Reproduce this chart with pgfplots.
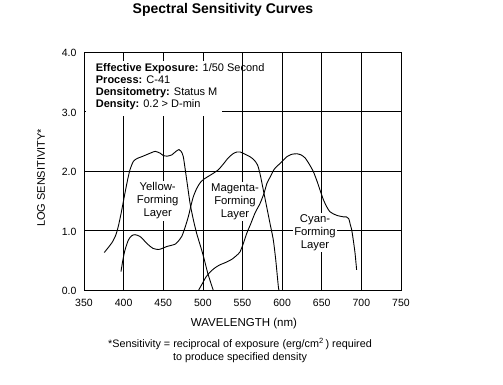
\documentclass[border=0pt]{standalone}
\usepackage{pgfplots}
\pgfplotsset{compat=1.18}
\usepackage{fontspec}
\setmainfont{Liberation Sans}
\begin{document}
\begin{tikzpicture}[x=1pt,y=1pt]
\useasboundingbox (0,0) rectangle (503,385);
\begin{axis}[
  at={(84pt,95pt)}, anchor=south west,
  scale only axis, width=317pt, height=238pt,
  xmin=350, xmax=750, ymin=0, ymax=4,
  xtick={350,400,...,750}, ytick={0,1,2,3,4},
  grid=major, major grid style={black, line width=0.75pt},
  major tick length=0pt,
  axis line style={black, line width=0.9pt},
  tick label style={font=\fontsize{10.5}{12}\selectfont},
  /pgf/number format/assume math mode=true,
  yticklabel={\pgfmathprintnumber[fixed,fixed zerofill,precision=1]{\tick}},
  yticklabel style={xshift=-4pt, yshift=-1pt},
  xticklabel style={yshift=-6pt},
  scaled ticks=false,
  clip=false,
]
\node[fill=white, align=center, inner sep=1.5pt, font=\fontsize{11.3}{13}\selectfont] at (axis cs:443,1.50) {Yellow-\\Forming\\Layer};
\node[fill=white, align=center, inner sep=1.5pt, font=\fontsize{11.3}{13}\selectfont] at (axis cs:540.5,1.49) {Magenta-\\Forming\\Layer};
\node[fill=white, align=center, inner sep=1.5pt, font=\fontsize{11.3}{13}\selectfont] at (axis cs:641.5,0.96) {Cyan-\\Forming\\Layer};
% Yellow-forming layer
\addplot[black, line width=0.9pt, smooth, tension=0.4] coordinates {
(375.6,0.63) (385,0.79) (390,0.92) (393.3,1.07) (397,1.30) (401.7,1.63) (405,1.85) (408,2.02) (412.2,2.16) (417,2.21) (422.8,2.24) (430,2.28) (435.4,2.31) (440,2.33) (446,2.30) (450,2.26) (455,2.25) (460.7,2.27) (466,2.33) (470,2.36) (472.5,2.33) (475.3,2.24) (479.6,1.85) (483.8,1.46) (488,1.18) (492.2,0.95) (498.5,0.67) (502,0.50) (506,0.29) (510,0.12) (513,0.0)
};
% Magenta-forming layer
\addplot[black, line width=0.9pt, smooth, tension=0.4] coordinates {
(396.7,0.31) (399,0.50) (401.7,0.67) (406,0.84) (410,0.91) (414.4,0.93) (420.7,0.90) (426,0.83) (431.2,0.76) (437,0.70) (443.8,0.68) (449,0.70) (454.3,0.73) (460,0.75) (465,0.77) (469,0.82) (473.3,0.90) (477,1.03) (481.6,1.23) (485,1.42) (488,1.57) (492,1.70) (496.4,1.80) (501,1.86) (506.9,1.91) (513,1.96) (519.5,2.02) (526,2.12) (532,2.22) (538,2.29) (543,2.32) (547,2.32) (552,2.29) (559.5,2.24) (565,2.18) (569,2.10) (572,1.96) (576,1.70) (580.5,1.40) (585,1.10) (588.9,0.84) (592,0.50) (595.2,0.06) (596,0.0)
};
% Cyan-forming layer
\addplot[black, line width=0.9pt, smooth, tension=0.4] coordinates {
(494.7,0.0) (499,0.10) (504,0.22) (509,0.30) (515,0.37) (521,0.42) (530,0.47) (537,0.52) (542.5,0.58) (546.8,0.64) (551,0.78) (555.3,0.95) (560,1.10) (566,1.30) (572,1.45) (577,1.62) (581,1.80) (585,1.90) (590,2.03) (596,2.11) (601.5,2.18) (606,2.24) (612,2.28) (618.4,2.29) (624,2.27) (629,2.22) (634,2.12) (639.4,1.99) (644,1.83) (647.8,1.68) (652,1.52) (656.2,1.40) (660,1.32) (664.6,1.28) (670,1.25) (677.2,1.23) (681,1.23) (684,1.20) (686,1.10) (687.8,1.01) (690,0.82) (692,0.62) (694,0.34)
};
\end{axis}
% info block
\fill[white] (86,269) rectangle (222,324);
\node[anchor=base west, inner sep=0pt, font=\fontsize{11}{12}\selectfont] at (95.7,313.5) {\textbf{Effective Exposure:} 1/50 Second};
\node[anchor=base west, inner sep=0pt, font=\fontsize{11}{12}\selectfont] at (95.7,301.6) {\textbf{Process:} C-41};
\node[anchor=base west, inner sep=0pt, font=\fontsize{11}{12}\selectfont] at (95.7,289.5) {\textbf{Densitometry:} Status M};
\node[anchor=base west, inner sep=0pt, font=\fontsize{11}{12}\selectfont] at (95.7,277.7) {\textbf{Density:} 0.2 > D-min};
% title and labels
\node[anchor=base, inner sep=0pt, font=\bfseries\fontsize{14}{16}\selectfont] at (223,371) {Spectral Sensitivity Curves};
\node[anchor=base, inner sep=0pt, font=\fontsize{11.5}{13}\selectfont] at (244,58.3) {WAVELENGTH (nm)};
\node[rotate=90, inner sep=0pt, font=\fontsize{11}{13}\selectfont] at (41,207) {LOG SENSITIVITY*};
\node[anchor=base, inner sep=0pt, font=\fontsize{10.8}{12}\selectfont] at (240,37.3) {*Sensitivity = reciprocal of exposure (erg/cm\textsuperscript{2}\,) required};
\node[anchor=base, inner sep=0pt, font=\fontsize{10.8}{12}\selectfont] at (240,24) {to produce specified density};
\end{tikzpicture}
\end{document}
